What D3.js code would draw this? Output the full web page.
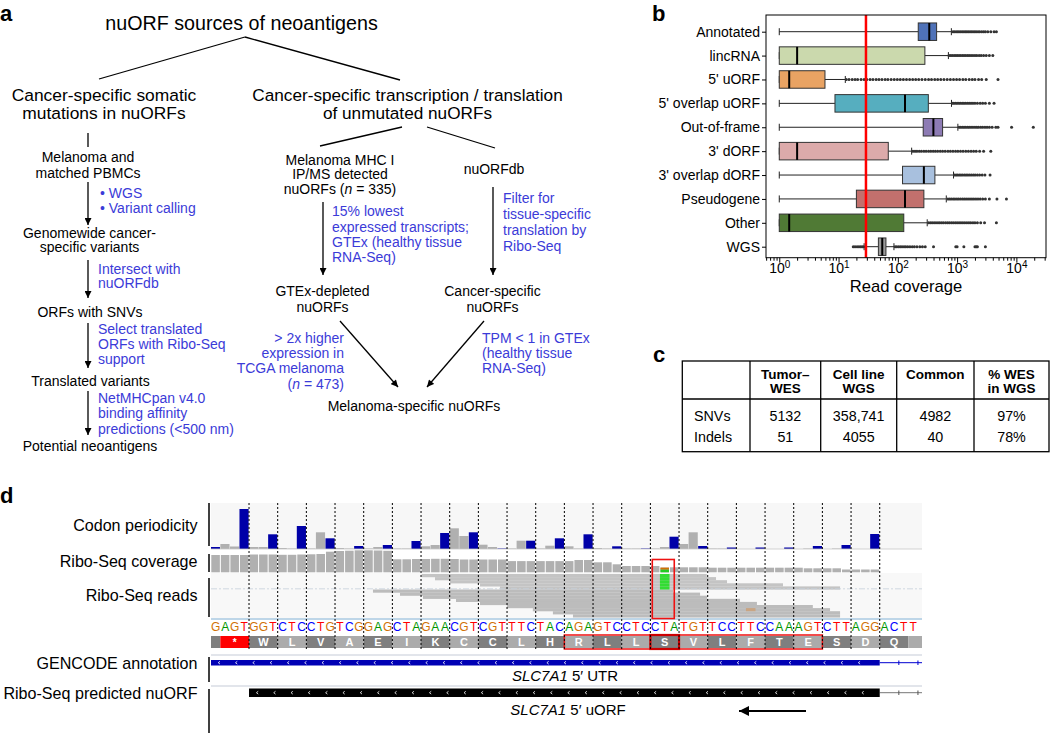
<!DOCTYPE html>
<html><head><meta charset="utf-8">
<script src="https://cdn.jsdelivr.net/npm/d3@7"></script>
<style>
body{margin:0;background:#fff;}
svg text{font-family:"Liberation Sans",Arial,Helvetica,sans-serif;}
</style>
</head><body>
<svg id="fig" width="1050" height="734"></svg>
<script>
// ---------------- DATA ----------------
// Panel b
const categories = ["Annotated","lincRNA","5' uORF","5' overlap uORF","Out-of-frame","3' dORF","3' overlap dORF","Pseudogene","Other","WGS"];
const whiskerLow  = [1,1,1,1,1,1,1,1,1,27];
const q1          = [221,1,1,8.7,268,1,120,20,1,47];
const medians     = [339,2,1.47,132,398,2,275,132,1.47,54.6];
const q3          = [451,286,5.9,327,569,69,422,275,126,63];
const whiskerHigh = [800,713,13,804,1030,171,870,657,313,86];
const boxColors   = ["#4f72b8","#cbd9ad","#e9a363","#56aebf","#8d7bb4","#dcaaaa","#a8c0de","#c2706d","#507a35","#9a9a9a"];
const outliers = [
  [850,900,960,1020,1080,1150,1220,1300,1380,1460,1550,1650,1750,1860,1980,2100,2250,2400,2600,2800,3000,3300,3700,4200,4600],
  [730,780,830,890,950,1010,1080,1150,1230,1310,1400,1500,1600,1720,1850,2000,2150,2350,2550,2800,3100,3500,4000],
  [13.5,15,17,19,21,24,27,30,34,38,43,48,54,61,68,77,87,98,110,124,140,158,178,200,225,255,290,330,370,420,470,530,600,680,770,870,980,1100,1250,1400,1600,1800,2000,2300,2600,3100,4900],
  [830,880,940,1000,1070,1140,1220,1300,1390,1490,1600,1720,1850,2000,2200,2450,2700,3000,3500,4200],
  [1080,1150,1230,1310,1400,1500,1600,1720,1850,2000,2150,2300,2500,2700,2950,3200,3500,3900,4500,4900,8300,19300],
  [180,195,210,230,250,275,300,330,360,395,430,470,520,570,630,700,770,850,940,1030,1140,1260,1400,1550,1720,1900,2100,2400,2800,3700],
  [900,960,1020,1090,1160,1240,1330,1420,1520,1630,1750,1880,2020,2200,2400,2650,2950,3600],
  [700,750,800,860,920,990,1060,1140,1230,1320,1420,1530,1650,1780,1920,2080,2250,2450,2700,3000,3500,4700,6800],
  [330,355,380,410,440,475,510,550,590,640,690,740,800,860,930,1000,1080,1160,1250,1350,1460,1580,1700,1850,2000,2200,2500,2900,4600],
  [17.7,19,20.5,22,23.5,25,26.5,90,96,103,110,118,127,136,147,160,175,190,210,235,260,290,400,950,1000,1300,2000,2100,2200,3000]
];
const coverageThreshold = 29;
const xMajorTicks = [1,10,100,1000,10000];
const xAxisTitle = "Read coverage";

// Panel c
const tableHeaders = [["Tumor–","WES"],["Cell line","WGS"],["Common"],["% WES","in WGS"]];
const rowLabels = ["SNVs","Indels"];
const tableValues = [["5132","358,741","4982","97%"],["51","4055","40","78%"]];

// Panel d
const sequence = "GAGTGGTCTCCTGTCGGAGCTAGAACGTCGTTTCTACAGAGTCCTCCTATGTTCCTTCCAAAGTCTTAGGACTT";
const aminoAcids = ["","*","W","L","V","A","E","I","K","C","C","L","H","R","L","L","S","V","L","F","T","E","S","D","Q",""];
const codonStarts = [0,1,4,7,10,13,16,19,22,25,28,31,34,37,40,43,46,49,52,55,58,61,64,67,70,73];
const periodicity = [2,5,2.5,40,2,2,14.7,1,0.5,23,
  0.5,16.7,10.7,1,0.5,3,0.5,2,4,0.5,
  0.5,8,2.7,4,16,20.7,13,16.7,4.3,2,
  0.5,0.5,8.3,8.3,0.5,3.3,10.7,2.7,0.5,14.7,
  1,0.5,2.7,0.5,0.5,0.5,0.5,2,12.3,5,
  16.7,3,0.5,0.5,1.5,0,0,1.5,0,0,
  1.5,0,0.5,3,0,0.5,4,0,0,15,
  0,0,0,0,0];
const coverage = [17.3,17.3,17.3,17.3,17.8,17.8,17.8,17.5,17.5,17.8,
  18,18.3,20.6,21.3,21.6,22,22,21.8,21.5,13,
  13,13.3,13.3,13.5,13.5,13.3,12.8,12.8,12.8,12.8,
  12.8,11.2,11.2,11.2,11.2,11.2,11.2,11.2,12.3,12.3,
  10,10,8,6.3,6.3,6.3,6.3,4.7,5,5,
  5,5,4.6,4.6,4.6,4.6,4.6,4.6,4.6,4.6,
  4.6,4.6,4,4,4,4,2.8,2.8,2.8,2.8,
  0,0,0,0,0];
const coverageMismatch = [{pos:47, base:"A", frac:0.6},{pos:47, base:"G", frac:0.4}];
const reads = [[22.07,51.9],[23.46,52.87],[25.03,54.02],[28.17,59.88],[30.26,65.85],
  [16.97,48.37],[19.8,51.2],[22.2,51.92],[25.66,55.38],[28.17,57.15],[30.99,63.0],[33.7,64.8],[35.8,65.85],[37.9,65.85]];
const readMismatches = [{pos:47,row:0,base:"A"},{pos:47,row:1,base:"A"},{pos:47,row:2,base:"A"},{pos:47,row:3,base:"A"},{pos:47,row:4,base:"A"},{pos:56,row:11,base:"X"}];
const utrExon = [0,70], utrEnd = 75;
const uorfExon = [4,70];
const peptideBox = [37,64];   // R ... E
const variantCodon = [46,49]; // S
const trackLabels = ["Codon periodicity","Ribo-Seq coverage","Ribo-Seq reads","GENCODE annotation","Ribo-Seq predicted nuORF"];

// ---------------- DRAWING ----------------
const svg = d3.select("#fig");
const defs = svg.append("defs");
defs.append("marker").attr("id","ah").attr("viewBox","0 0 10 10").attr("refX",10).attr("refY",5)
  .attr("markerWidth",8).attr("markerHeight",7).attr("markerUnits","userSpaceOnUse").attr("orient","auto")
  .append("path").attr("d","M0,0 L10,5 L0,10 z").attr("fill","#000");
defs.append("marker").attr("id","ah2").attr("viewBox","0 0 10 10").attr("refX",10).attr("refY",5)
  .attr("markerWidth",14).attr("markerHeight",10).attr("markerUnits","userSpaceOnUse").attr("orient","auto")
  .append("path").attr("d","M0,0 L10,5 L0,10 z").attr("fill","#000");

const BLUE = "#3b3bd8";
function addLines(g, x, ys, lines, o={}) {
  const size = o.size || 14, anchor = o.anchor || "middle", color = o.color || "#000";
  lines.forEach((ln, i) => {
    const t = g.append("text").attr("x", x).attr("y", ys[i]).attr("dy","0.35em")
      .attr("text-anchor", anchor).attr("font-size", size).attr("fill", color)
      .attr("font-weight", o.weight || "normal");
    ln.split("*").forEach((seg, j) => {
      if (seg.length) t.append("tspan").attr("font-style", j % 2 ? "italic" : "normal").text(seg);
    });
  });
}
function line(g, x1, y1, x2, y2, arrow) {
  const l = g.append("line").attr("x1",x1).attr("y1",y1).attr("x2",x2).attr("y2",y2)
    .attr("stroke","#000").attr("stroke-width",1.3);
  if (arrow) l.attr("marker-end","url(#ah)");
}

// panel letters
[["a",0,21],["b",652,21],["c",653,362],["d",0,503]].forEach(([t,x,y]) =>
  svg.append("text").attr("x",x).attr("y",y).attr("font-size",22).attr("font-weight","bold").text(t));

// ---- Panel a ----
const ga = svg.append("g");
addLines(ga, 241.5, [23], ["nuORF sources of neoantigens"], {size:19.7});
line(ga, 99, 79, 245, 37); line(ga, 245, 37, 400, 80);
addLines(ga, 104, [95,113], ["Cancer-specific somatic","mutations in nuORFs"], {size:17.4});
addLines(ga, 407.5, [95,113], ["Cancer-specific transcription / translation","of unmutated nuORFs"], {size:17.2});
line(ga, 88, 133, 88, 147);
addLines(ga, 88, [157,173], ["Melanoma and","matched PBMCs"], {size:14});
line(ga, 88, 182, 88, 225, true);
addLines(ga, 100, [193,208], ["• WGS","• Variant calling"], {size:14, anchor:"start", color:BLUE});
addLines(ga, 89.5, [233,247], ["Genomewide cancer-","specific variants"], {size:14});
line(ga, 88, 260, 88, 298, true);
addLines(ga, 98, [269,283], ["Intersect with","nuORFdb"], {size:14, anchor:"start", color:BLUE});
addLines(ga, 90, [312], ["ORFs with SNVs"], {size:14});
line(ga, 88, 323, 88, 368, true);
addLines(ga, 98, [329,344,359], ["Select translated","ORFs with Ribo-Seq","support"], {size:14, anchor:"start", color:BLUE});
addLines(ga, 90.5, [381], ["Translated variants"], {size:14});
line(ga, 88, 391, 88, 435, true);
addLines(ga, 98, [398,413,429], ["NetMHCpan v4.0","binding affinity","predictions (<500 nm)"], {size:14, anchor:"start", color:BLUE});
addLines(ga, 90, [446], ["Potential neoantigens"], {size:14});

line(ga, 402, 127, 320, 146); line(ga, 427, 127, 495, 148);
addLines(ga, 340, [160,174,189], ["Melanoma MHC I","IP/MS detected","nuORFs (*n* = 335)"], {size:14});
addLines(ga, 494, [169], ["nuORFdb"], {size:14});
line(ga, 323, 202, 323, 275, true);
line(ga, 493, 187, 493, 275, true);
addLines(ga, 332, [211,227,242,257], ["15% lowest","expressed transcripts;","GTEx (healthy tissue","RNA-Seq)"], {size:14, anchor:"start", color:BLUE});
addLines(ga, 503, [198,214,230,246], ["Filter for","tissue-specific","translation by","Ribo-Seq"], {size:14, anchor:"start", color:BLUE});
addLines(ga, 322.5, [291,307], ["GTEx-depleted","nuORFs"], {size:14});
addLines(ga, 492.5, [291,307], ["Cancer-specific","nuORFs"], {size:14});
line(ga, 340, 321, 398, 387, true);
line(ga, 484, 321, 427, 387, true);
addLines(ga, 344, [338,353,368,384], ["> 2x higher","expression in","TCGA melanoma","(*n* = 473)"], {size:14, anchor:"end", color:BLUE});
addLines(ga, 482, [338,353,368], ["TPM < 1 in GTEx","(healthy tissue","RNA-Seq)"], {size:14, anchor:"start", color:BLUE});
addLines(ga, 414, [406], ["Melanoma-specific nuORFs"], {size:14});

// ---- Panel b ----
const gb = svg.append("g");
const bL = 766, bR = 1046, bT = 15, bB = 257.7;
const xB = d3.scaleLog().domain([0.597, 31600]).range([bL, bR]);
const yB = d3.scalePoint().domain(categories).range([31.7, 246.7]);
const boxH = 17.5;
const minorTicks = [];
[0.1,1,10,100,1000,10000].forEach(d => d3.range(2,10).forEach(m => { const v=d*m; if (v>=0.6 && v<=31600) minorTicks.push(v); }));

gb.append("g").attr("transform",`translate(0,${bB})`)
  .call(d3.axisBottom(xB).tickValues(minorTicks).tickSize(3).tickFormat(""))
  .call(g => g.select(".domain").remove());
gb.append("g").attr("transform",`translate(0,${bB})`)
  .call(d3.axisBottom(xB).tickValues(xMajorTicks).tickSize(5).tickPadding(0).tickFormat(d => Math.round(Math.log10(d))))
  .call(g => g.select(".domain").remove())
  .call(g => g.selectAll(".tick text").each(function(d){
     const e = Math.round(Math.log10(d));
     const t = d3.select(this).text(null).attr("font-size",14).attr("fill","#000");
     t.append("tspan").text("10");
     t.append("tspan").attr("dy","-0.45em").attr("font-size",10).text(e);
  }));
gb.append("g").attr("transform",`translate(${bL},0)`)
  .call(d3.axisLeft(yB).tickSize(4).tickPadding(2))
  .call(g => g.select(".domain").remove())
  .call(g => g.selectAll(".tick text").attr("font-size",14).attr("fill","#000"));
gb.selectAll(".tick line").attr("stroke","#000");

const rows = categories.map((c,i)=>({c, i, lo:whiskerLow[i], q1:q1[i], med:medians[i], q3:q3[i], hi:whiskerHigh[i], out:outliers[i], col:boxColors[i]}));
const rg = gb.selectAll("g.row").data(rows).join("g").attr("class","row");
rg.append("line").attr("x1",d=>xB(d.lo)).attr("x2",d=>xB(d.q1)).attr("y1",d=>yB(d.c)).attr("y2",d=>yB(d.c)).attr("stroke","#222").attr("stroke-width",1);
rg.append("line").attr("x1",d=>xB(d.q3)).attr("x2",d=>xB(d.hi)).attr("y1",d=>yB(d.c)).attr("y2",d=>yB(d.c)).attr("stroke","#222").attr("stroke-width",1);
rg.append("line").attr("x1",d=>xB(d.lo)).attr("x2",d=>xB(d.lo)).attr("y1",d=>yB(d.c)-3.5).attr("y2",d=>yB(d.c)+3.5).attr("stroke","#222");
rg.append("line").attr("x1",d=>xB(d.hi)).attr("x2",d=>xB(d.hi)).attr("y1",d=>yB(d.c)-3.5).attr("y2",d=>yB(d.c)+3.5).attr("stroke","#222");
rg.selectAll("circle").data(d=>d.out.map(v=>({v,c:d.c}))).join("circle")
  .attr("cx",d=>xB(d.v)).attr("cy",d=>yB(d.c)).attr("r",1.5).attr("fill","#333");
rg.append("rect").attr("x",d=>xB(d.q1)).attr("width",d=>Math.max(1,xB(d.q3)-xB(d.q1)))
  .attr("y",d=>yB(d.c)-boxH/2).attr("height",boxH).attr("fill",d=>d.col).attr("stroke","#333").attr("stroke-width",1);
rg.append("line").attr("x1",d=>xB(d.med)).attr("x2",d=>xB(d.med)).attr("y1",d=>yB(d.c)-boxH/2).attr("y2",d=>yB(d.c)+boxH/2).attr("stroke","#000").attr("stroke-width",2);
gb.append("line").attr("x1",xB(coverageThreshold)).attr("x2",xB(coverageThreshold)).attr("y1",bT).attr("y2",bB).attr("stroke","#f00").attr("stroke-width",2.5);
gb.append("rect").attr("x",bL).attr("y",bT).attr("width",bR-bL).attr("height",bB-bT).attr("fill","none").attr("stroke","#000").attr("stroke-width",1);
gb.append("text").attr("x",906).attr("y",286).attr("dy","0.35em").attr("text-anchor","middle").attr("font-size",16.6).text(xAxisTitle);

// ---- Panel c ----
const gc = svg.append("g");
const colX = [682.3,750,820.7,896.7,974,1049];
const tT = 361, tM = 399, tBt = 451.7;
gc.append("rect").attr("x",colX[0]).attr("y",tT).attr("width",colX[5]-colX[0]).attr("height",tBt-tT).attr("fill","none").attr("stroke","#000").attr("stroke-width",1.3);
gc.append("line").attr("x1",colX[0]).attr("x2",colX[5]).attr("y1",tM).attr("y2",tM).attr("stroke","#000").attr("stroke-width",1.3);
colX.slice(1,5).forEach(x => gc.append("line").attr("x1",x).attr("x2",x).attr("y1",tT).attr("y2",tBt).attr("stroke","#000").attr("stroke-width",1.3));
tableHeaders.forEach((h,i) => {
  const cx = (colX[i+1]+colX[i+2])/2;
  addLines(gc, cx, [374.5,388.7], h, {size:13.5, weight:"bold"});
});
rowLabels.forEach((r,j) => {
  const y = [416,436.7][j];
  addLines(gc, 694, [y], [r], {size:14.3, anchor:"start"});
  tableValues[j].forEach((v,i) => addLines(gc, (colX[i+1]+colX[i+2])/2, [y], [v], {size:14.3}));
});

// ---- Panel d ----
const gd = svg.append("g");
const xD = d3.scaleLinear().domain([0,75]).range([210.8, 927.5]);
const clipR = 922;
defs.append("clipPath").attr("id","dclip").append("rect").attr("x",211).attr("y",490).attr("width",clipR-211).attr("height",250);
const dd = gd.append("g").attr("clip-path","url(#dclip)");
const nw = xD(1)-xD(0);
const baseColor = {A:"#009600",C:"#0000ff",G:"#d17105",T:"#ff0000",X:"#c9a583"};

const labelYs = [525.7,561.7,595.7,663.3,693.3];
trackLabels.forEach((t,i) => addLines(gd, 197.5, [labelYs[i]], [t], {size:16.1, anchor:"end"}));
[[503,546],[554,572],[578,617],[657,682],[689,733]].forEach(([a,b]) =>
  gd.append("line").attr("x1",209).attr("x2",209).attr("y1",a).attr("y2",b).attr("stroke","#000").attr("stroke-width",1.5));

dd.append("rect").attr("x",211).attr("y",503).attr("width",clipR-211).attr("height",46).attr("fill","#f7f7f7");
dd.append("rect").attr("x",211).attr("y",573).attr("width",clipR-211).attr("height",45).attr("fill","#f8f8f8");

// codon periodicity
const yP = d3.scaleLinear().domain([0,46]).range([549,503]);
dd.selectAll("rect.per").data(periodicity).join("rect").attr("class","per")
  .attr("x",(d,i)=>xD(i)).attr("width",nw-0.4).attr("y",d=>yP(d)).attr("height",d=>549-yP(d))
  .attr("fill",(d,i)=> i%3===0 ? "#0000a8" : "#b0b0b0");
dd.append("line").attr("x1",211).attr("x2",clipR).attr("y1",549).attr("y2",549).attr("stroke","#c8c8c8").attr("stroke-width",0.8);

// coverage
const yC = d3.scaleLinear().domain([0,23.3]).range([572.3,549]);
dd.selectAll("rect.cov").data(coverage).join("rect").attr("class","cov")
  .attr("x",(d,i)=>xD(i)+0.5).attr("width",nw-1).attr("y",d=>yC(d)).attr("height",d=>572.3-yC(d))
  .attr("fill","#b0b0b0");
let acc = 0;
coverageMismatch.forEach(m => {
  const h = (572.3 - yC(coverage[m.pos]))*m.frac;
  dd.append("rect").attr("x",xD(m.pos)+0.5).attr("width",nw-1).attr("y",572.3-acc-h).attr("height",h).attr("fill",m.base==="A"?"#22cc22":baseColor[m.base]);
  acc += h;
});

// reads
const rowH = 3.1, readTop = 574;
dd.selectAll("rect.read").data(reads).join("rect").attr("class","read")
  .attr("x",d=>xD(d[0])).attr("width",d=>xD(d[1])-xD(d[0])).attr("y",(d,i)=>readTop+i*rowH).attr("height",rowH+0.1)
  .attr("fill",(d,i)=> i<5 ? "#c4c4c4" : "#bcbcbc");
dd.append("line").attr("x1",211).attr("x2",clipR).attr("y1",588.8).attr("y2",588.8).attr("stroke","#c5d0da").attr("stroke-width",0.8).attr("stroke-dasharray","6,2,2,2");
dd.selectAll("rect.mm").data(readMismatches).join("rect").attr("class","mm")
  .attr("x",d=>xD(d.pos)).attr("width",nw).attr("y",d=>readTop+d.row*rowH).attr("height",rowH)
  .attr("fill",d=> d.base==="A" ? "#33dd33" : baseColor[d.base]);
dd.append("line").attr("x1",211).attr("x2",clipR).attr("y1",619).attr("y2",619).attr("stroke","#a8c8e0").attr("stroke-width",1.5);

// sequence
dd.selectAll("text.nt").data(sequence.split("")).join("text").attr("class","nt")
  .attr("x",(d,i)=>xD(i+0.5)).attr("y",627).attr("dy","0.36em").attr("text-anchor","middle")
  .attr("font-size",12).attr("fill",d=>baseColor[d]).text(d=>d);

// amino acids
const aa = aminoAcids.map((a,k)=>({a, s:codonStarts[k], e: k+1<codonStarts.length ? codonStarts[k+1] : 75, k}));
dd.selectAll("rect.aa").data(aa).join("rect").attr("class","aa")
  .attr("x",d=>xD(d.s)).attr("width",d=>xD(d.e)-xD(d.s)).attr("y",636).attr("height",12)
  .attr("fill",d=> d.a==="*" ? "#ff0000" : (d.k%2===0 ? "#7f7f7f" : "#ababab"));
dd.selectAll("text.aa").data(aa).join("text").attr("class","aa")
  .attr("x",d=>xD((d.s+d.e)/2)).attr("y",642).attr("dy","0.36em").attr("text-anchor","middle")
  .attr("font-size",d=> d.a==="*"?10:11).attr("font-weight","bold").attr("fill","#fff").text(d=>d.a);
dd.append("rect").attr("x",xD(peptideBox[0])).attr("width",xD(peptideBox[1])-xD(peptideBox[0])).attr("y",635).attr("height",14)
  .attr("fill","none").attr("stroke","#ee1111").attr("stroke-width",1.5);
dd.append("rect").attr("x",xD(variantCodon[0])).attr("width",xD(variantCodon[1])-xD(variantCodon[0])).attr("y",635).attr("height",14)
  .attr("fill","none").attr("stroke","#cc0000").attr("stroke-width",2.2);
dd.append("rect").attr("x",xD(46.2)).attr("width",xD(48.5)-xD(46.2)).attr("y",559.5).attr("height",59)
  .attr("fill","none").attr("stroke","#ee1111").attr("stroke-width",1.6);

// codon boundaries (dotted)
const boundaries = codonStarts.filter(s => s>=4 && s<=70);
dd.selectAll("line.cb").data(boundaries).join("line").attr("class","cb")
  .attr("x1",d=>xD(d)).attr("x2",d=>xD(d)).attr("y1",503).attr("y2",651)
  .attr("stroke","#000").attr("stroke-width",1).attr("stroke-dasharray","2,2");

// GENCODE + nuORF
dd.append("line").attr("x1",211).attr("x2",clipR).attr("y1",655).attr("y2",655).attr("stroke","#d8dde4").attr("stroke-width",1.5);
dd.append("line").attr("x1",211).attr("x2",clipR).attr("y1",686).attr("y2",686).attr("stroke","#d8dde4").attr("stroke-width",1.5);
dd.append("line").attr("x1",xD(utrExon[1])).attr("x2",xD(utrEnd)).attr("y1",662.7).attr("y2",662.7).attr("stroke","#0000d0").attr("stroke-width",1);
[72,74].forEach(p => dd.append("line").attr("x1",xD(p)).attr("x2",xD(p)).attr("y1",660.5).attr("y2",665).attr("stroke","#0000d0"));
dd.append("rect").attr("x",xD(utrExon[0])).attr("width",xD(utrExon[1])-xD(utrExon[0])).attr("y",660).attr("height",5.5).attr("fill","#0000b4");
dd.append("line").attr("x1",xD(uorfExon[1])).attr("x2",xD(utrEnd)).attr("y1",692.7).attr("y2",692.7).attr("stroke","#777").attr("stroke-width",1);
[72,74].forEach(p => dd.append("line").attr("x1",xD(p)).attr("x2",xD(p)).attr("y1",690.5).attr("y2",695).attr("stroke","#555"));
dd.append("rect").attr("x",xD(uorfExon[0])).attr("width",xD(uorfExon[1])-xD(uorfExon[0])).attr("y",688.5).attr("height",8.5).attr("fill","#000");
function chevrons(x0, x1, y) {
  for (let x = x0 + 8; x < x1 - 4; x += 17.3)
    dd.append("path").attr("d",`M${x+1.2},${y-1.4} L${x-0.6},${y} L${x+1.2},${y+1.4}`).attr("fill","none").attr("stroke","#fff").attr("stroke-width",0.8);
}
chevrons(xD(utrExon[0]), xD(utrExon[1]), 662.7);
chevrons(xD(uorfExon[0]), xD(uorfExon[1]), 692.7);
const t1 = gd.append("text").attr("x",565).attr("y",676).attr("dy","0.35em").attr("text-anchor","middle").attr("font-size",15);
t1.append("tspan").attr("font-style","italic").text("SLC7A1");
t1.append("tspan").text(" 5′ UTR");
const t2 = gd.append("text").attr("x",568).attr("y",710).attr("dy","0.35em").attr("text-anchor","middle").attr("font-size",15);
t2.append("tspan").attr("font-style","italic").text("SLC7A1");
t2.append("tspan").text(" 5′ uORF");
gd.append("line").attr("x1",806).attr("x2",739).attr("y1",711).attr("y2",711).attr("stroke","#000").attr("stroke-width",2).attr("marker-end","url(#ah2)");
</script>
</body></html>
